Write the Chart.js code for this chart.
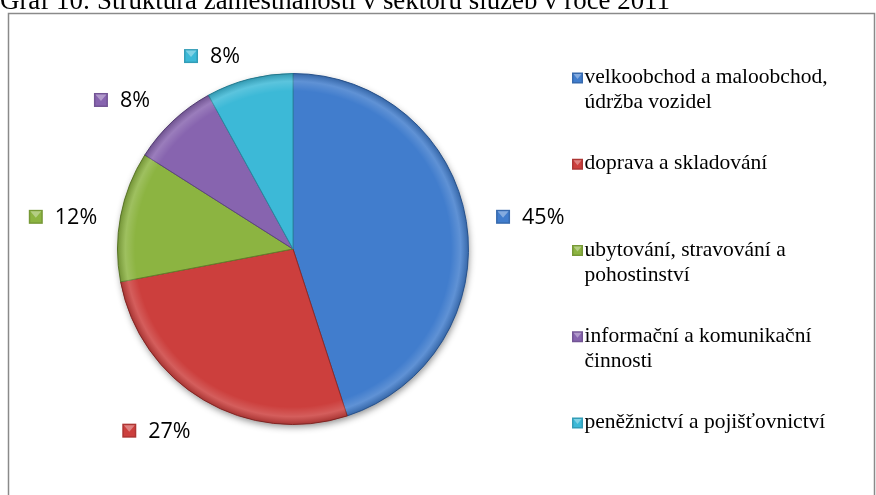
<!DOCTYPE html>
<html>
<head>
<meta charset="utf-8">
<script src="https://cdn.jsdelivr.net/npm/chart.js@4/dist/chart.umd.min.js"></script>
<style>
html,body{margin:0;padding:0;background:#fff;}
#wrap{position:relative;width:876px;height:495px;overflow:hidden;}
canvas{display:block;}
</style>
</head>
<body>
<div id="wrap"><canvas id="c" width="876" height="495"></canvas></div>
<script>
const titleText = "Graf 10: Struktura zaměstnanosti v sektoru služeb v roce 2011";
const categories = [
  "velkoobchod a maloobchod, údržba vozidel",
  "doprava a skladování",
  "ubytování, stravování a pohostinství",
  "informační a komunikační činnosti",
  "peněžnictví a pojišťovnictví"
];
const values = [45, 27, 12, 8, 8];
const sliceColors = ["#417dcd", "#cc3f3d", "#8cb441", "#8764af", "#3cb9d7"];
const sliceEdges  = ["#2d5c9c", "#8f2a28", "#62802c", "#5d4580", "#2a8aa1"];

function shade(hex, amt){
  const n = parseInt(hex.slice(1),16);
  let r=(n>>16)&255,g=(n>>8)&255,b=n&255;
  const f = v => Math.max(0,Math.min(255,Math.round(amt>0? v+(255-v)*amt : v*(1+amt))));
  return `rgb(${f(r)},${f(g)},${f(b)})`;
}
function drawMarker(ctx, x, y, s, color){
  ctx.save();
  ctx.fillStyle = shade(color,-0.15);
  ctx.fillRect(x, y, s, s);
  ctx.fillStyle = color;
  ctx.fillRect(x+1.5, y+1.5, s-3, s-3);
  ctx.fillStyle = shade(color,0.35);
  ctx.beginPath();
  ctx.moveTo(x+1.5, y+1.5); ctx.lineTo(x+s-1.5, y+1.5); ctx.lineTo(x+s/2, y+s/2+1);
  ctx.closePath(); ctx.fill();
  ctx.restore();
}
function wrapText(ctx, text, maxW){
  const words = text.split(" "); const lines=[]; let cur="";
  for(const w of words){
    const t = cur? cur+" "+w : w;
    if(ctx.measureText(t).width > maxW && cur){ lines.push(cur); cur=w; } else cur=t;
  }
  if(cur) lines.push(cur);
  return lines;
}

const decor = {
  id:'decor',
  beforeDraw(chart){
    const ctx = chart.ctx;
    ctx.save();
    ctx.fillStyle="#fff"; ctx.fillRect(0,0,chart.width,chart.height);
    ctx.strokeStyle="#8a8a8a"; ctx.lineWidth=1.5;
    ctx.strokeRect(8.5, 13.5, 866, 520);
    ctx.font = "100px 'Liberation Serif'";
    const w100 = ctx.measureText(titleText).width;
    const size = 100*670/w100;
    ctx.font = size.toFixed(2)+"px 'Liberation Serif'";
    ctx.fillStyle="#000"; ctx.textBaseline="alphabetic"; ctx.textAlign="left";
    ctx.fillText(titleText, 0, 9);
    ctx.restore();
  },
  beforeDatasetsDraw(chart){
    const a = chart.getDatasetMeta(0).data[0];
    const ctx = chart.ctx;
    ctx.save();
    ctx.shadowColor="rgba(0,0,0,0.45)"; ctx.shadowBlur=7; ctx.shadowOffsetX=1; ctx.shadowOffsetY=3;
    ctx.fillStyle="#888";
    ctx.beginPath(); ctx.arc(a.x,a.y,a.outerRadius-0.5,0,Math.PI*2); ctx.fill();
    ctx.restore();
  },
  afterDatasetsDraw(chart){
    const meta = chart.getDatasetMeta(0);
    const ctx = chart.ctx;
    meta.data.forEach((a)=>{
      const g = ctx.createRadialGradient(a.x,a.y,0,a.x,a.y,a.outerRadius);
      g.addColorStop(0,"rgba(255,255,255,0)");
      g.addColorStop(0.9,"rgba(255,255,255,0)");
      g.addColorStop(0.955,"rgba(255,255,255,0.16)");
      g.addColorStop(1,"rgba(0,0,0,0.18)");
      ctx.save();
      ctx.beginPath();
      ctx.moveTo(a.x,a.y);
      ctx.arc(a.x,a.y,a.outerRadius,a.startAngle,a.endAngle);
      ctx.closePath();
      ctx.fillStyle=g; ctx.fill();
      ctx.restore();
    });
  },
  afterDraw(chart){
    const ctx = chart.ctx;
    const meta = chart.getDatasetMeta(0);
    const o = chart.options.plugins.decor;
    ctx.save();
    ctx.font = o.labelFont; ctx.fillStyle="#000"; ctx.textBaseline="middle"; ctx.textAlign="left";
    meta.data.forEach((a,i)=>{
      const mid=(a.startAngle+a.endAngle)/2;
      const x=a.x+o.labelDist*Math.cos(mid)+o.nudge[i][0];
      const y=a.y+o.labelDist*Math.sin(mid)+o.nudge[i][1];
      const txt=values[i]+"%";
      const tw=ctx.measureText(txt).width;
      const w=o.mk+o.gap+tw;
      const left=x-w/2;
      drawMarker(ctx,left,y-o.mk/2,o.mk,sliceColors[i]);
      ctx.fillText(txt,left+o.mk+o.gap,y+1);
    });
    ctx.restore();
    ctx.save();
    ctx.font = o.legendFont; ctx.fillStyle="#000"; ctx.textBaseline="alphabetic"; ctx.textAlign="left";
    categories.forEach((c,i)=>{
      const base=o.legTop+i*o.legStep;
      drawMarker(ctx,o.legX,base-10.5,11,sliceColors[i]);
      wrapText(ctx,c,o.legMaxW).forEach((ln,j)=>{
        ctx.fillText(ln,o.legX+12.5,base+j*o.legLine);
      });
    });
    ctx.restore();
  }
};

new Chart(document.getElementById('c'),{
  type:'pie',
  data:{
    labels:categories,
    datasets:[{data:values, backgroundColor:sliceColors, borderColor:sliceEdges, borderWidth:1}]
  },
  options:{
    responsive:false, animation:false, devicePixelRatio:1,
    layout:{padding:{left:117,right:407,top:73,bottom:70}},
    plugins:{
      legend:{display:false}, tooltip:{enabled:false},
      decor:{
        labelFont:"21.5px 'Open Sans'", labelDist:225, mk:14, gap:12,
        nudge:[[15,3],[-22,-12],[-9,10],[-17,15],[-25,25]],
        legendFont:"21.5px 'Liberation Serif'", legX:572, legTop:83, legStep:86.25, legLine:25, legMaxW:252
      }
    }
  },
  plugins:[decor]
});
</script>
</body>
</html>
